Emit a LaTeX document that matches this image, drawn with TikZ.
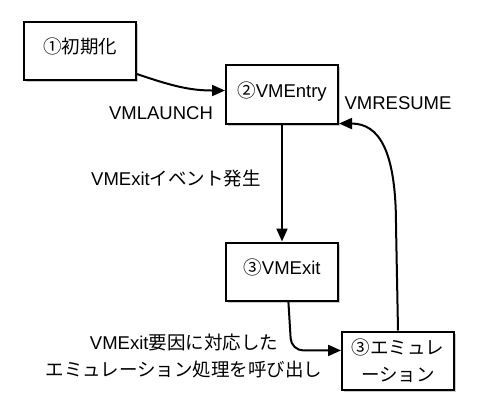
\documentclass[tikz,border=0pt]{standalone}
\usepackage{fontspec}
\setmainfont{Liberation Sans}
\newfontfamily\jp{Noto Sans CJK JP}
\usetikzlibrary{arrows.meta,shadows,calc}
\begin{document}
\begin{tikzpicture}[x=1pt,y=-1pt,
  every node/.style={font=\fontsize{18.5}{27}\selectfont},
  box/.style={draw=black,line width=2pt,fill=white,minimum width=112pt,minimum height=58pt,
    inner sep=0pt,align=center,
    drop shadow={shadow xshift=2pt,shadow yshift=-2pt,fill=black!35,opacity=0.6}},
  conn/.style={line width=2pt,-{Triangle[length=13pt,width=11pt]}},
  lbl/.style={inner sep=0pt,align=center}]
\useasboundingbox (0,0) rectangle (478,417);
\node[box] (b1) at (80,51) {\raisebox{10pt}{{\jp ①初期化}}};
\node[box] (b2) at (282,94.5) {\raisebox{9pt}{{\jp ②}VMEntry}};
\node[box] (b3) at (282,271.5) {\raisebox{9pt}{{\jp ③}VMExit}};
\node[box] (b4) at (398,360.5) {\raisebox{9pt}{\parbox{112pt}{\centering\jp ③エミュレ\\ーション}}};
\node[lbl] (l1) at (161,113) {VMLAUNCH};
\node[lbl] (l2) at (398,103) {VMRESUME};
\node[lbl] (l3) at (176,179) {VMExit{\jp イベント発生}};
\node[lbl] (l4) at (184,355.5) {VMExit{\jp 要因に対応した}\\{\jp エミュレーション処理を呼び出し}};
\draw[conn] (b1.-22) .. controls +(35,12) and +(-35,0) .. (b2.176);
\draw[conn] (b2.south) -- (b3.north);
\draw[conn,rounded corners=12pt] (b3.-78) -- ($(b3.-78 |- b4.170)+(3,0)$) -- (b4.170);
\draw[conn] (b4.north) -- ++(-2,-105) .. controls +(0,-75) and +(40,0) .. (b2.-27);
\end{tikzpicture}
\end{document}
